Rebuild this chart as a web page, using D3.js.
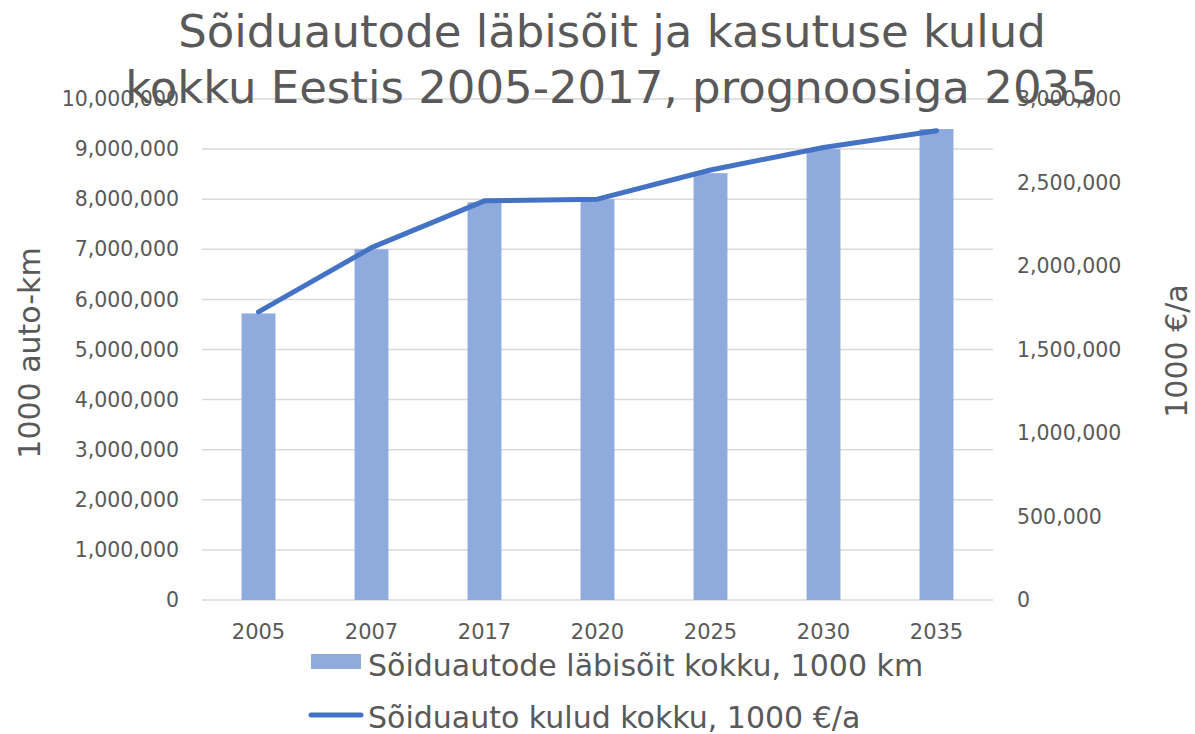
<!DOCTYPE html>
<html>
<head>
<meta charset="utf-8">
<script src="https://cdn.jsdelivr.net/npm/d3@7"></script>
<style>
  body { margin: 0; background: #fff; }
  svg text { font-family: "DejaVu Sans", sans-serif; fill: #595959; }
</style>
</head>
<body>
<div id="chart"></div>
<script>
// data
const years = ["2005", "2007", "2017", "2020", "2025", "2030", "2035"];
const labisoit = [5720000, 7000000, 7940000, 8000000, 8520000, 9000000, 9400000];
const kulud = [1725000, 2110000, 2390000, 2400000, 2575000, 2710000, 2810000];
const leftTicks = d3.range(0, 10000001, 1000000);
const rightTicks = d3.range(0, 3000001, 500000);

const width = 1195, height = 734;
const margin = { top: 99, right: 202, bottom: 134, left: 202 };

const svg = d3.select("#chart").append("svg")
  .attr("width", width)
  .attr("height", height);

const x = d3.scaleBand()
  .domain(years)
  .range([margin.left, width - margin.right])
  .paddingInner(0.7)
  .paddingOuter(0.35);

const yL = d3.scaleLinear().domain([0, 10000000]).range([height - margin.bottom, margin.top]);
const yR = d3.scaleLinear().domain([0, 3000000]).range([height - margin.bottom, margin.top]);

const fmt = d3.format(",");

// gridlines
svg.append("g")
  .selectAll("line")
  .data(leftTicks)
  .join("line")
  .attr("x1", margin.left)
  .attr("x2", width - margin.right)
  .attr("y1", d => yL(d))
  .attr("y2", d => yL(d))
  .attr("stroke", "#d9d9d9")
  .attr("stroke-width", 1.5);

// bars
svg.append("g")
  .selectAll("rect")
  .data(years)
  .join("rect")
  .attr("x", d => x(d))
  .attr("width", x.bandwidth())
  .attr("y", (d, i) => yL(labisoit[i]))
  .attr("height", (d, i) => yL(0) - yL(labisoit[i]))
  .attr("fill", "#8faadc");

// line (right axis)
const line = d3.line()
  .x((d, i) => x(years[i]) + x.bandwidth() / 2)
  .y(d => yR(d));

svg.append("path")
  .datum(kulud)
  .attr("d", line)
  .attr("fill", "none")
  .attr("stroke", "#4472c4")
  .attr("stroke-width", 5)
  .attr("stroke-linecap", "round")
  .attr("stroke-linejoin", "round");

// left axis labels
svg.append("g")
  .selectAll("text")
  .data(leftTicks)
  .join("text")
  .attr("x", 179)
  .attr("y", d => yL(d))
  .attr("dy", "0.35em")
  .attr("text-anchor", "end")
  .style("font-size", "20.5px")
  .text(d => fmt(d));

// right axis labels
svg.append("g")
  .selectAll("text")
  .data(rightTicks)
  .join("text")
  .attr("x", 1017)
  .attr("y", d => yR(d))
  .attr("dy", "0.35em")
  .attr("text-anchor", "start")
  .style("font-size", "20.5px")
  .text(d => fmt(d));

// x labels
svg.append("g")
  .selectAll("text")
  .data(years)
  .join("text")
  .attr("x", d => x(d) + x.bandwidth() / 2)
  .attr("y", 632)
  .attr("dy", "0.35em")
  .attr("text-anchor", "middle")
  .style("font-size", "21px")
  .text(d => d);

// axis titles
svg.append("text")
  .attr("transform", "translate(40,353) rotate(-90)")
  .attr("text-anchor", "middle")
  .style("font-size", "30px")
  .text("1000 auto-km");

svg.append("text")
  .attr("transform", "translate(1187,351) rotate(-90)")
  .attr("text-anchor", "middle")
  .style("font-size", "30px")
  .text("1000 €/a");

// title
const title = ["Sõiduautode läbisõit ja kasutuse kulud", "kokku Eestis 2005-2017, prognoosiga 2035"];
svg.append("g")
  .selectAll("text")
  .data(title)
  .join("text")
  .attr("x", 612)
  .attr("y", (d, i) => 47 + i * 56)
  .attr("text-anchor", "middle")
  .style("font-size", "45px")
  .text(d => d);

// legend
svg.append("rect")
  .attr("x", 311).attr("y", 654)
  .attr("width", 50).attr("height", 15)
  .attr("fill", "#8faadc");
svg.append("text")
  .attr("x", 368).attr("y", 676)
  .style("font-size", "30px")
  .text("Sõiduautode läbisõit kokku, 1000 km");

svg.append("line")
  .attr("x1", 311).attr("x2", 361)
  .attr("y1", 715).attr("y2", 715)
  .attr("stroke", "#4472c4")
  .attr("stroke-width", 5)
  .attr("stroke-linecap", "round");
svg.append("text")
  .attr("x", 368).attr("y", 728)
  .style("font-size", "30px")
  .text("Sõiduauto kulud kokku, 1000 €/a");
</script>
</body>
</html>
